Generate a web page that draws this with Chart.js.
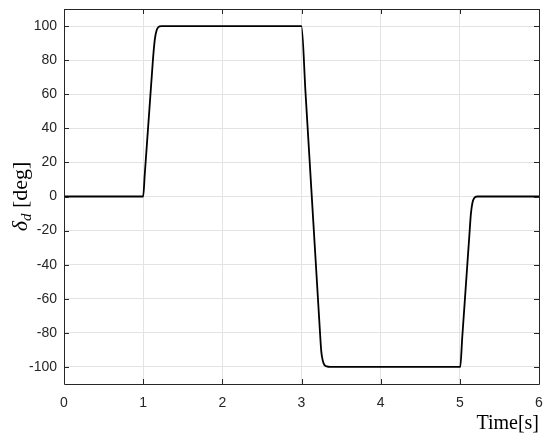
<!DOCTYPE html>
<html>
<head>
<meta charset="utf-8">
<script src="https://cdn.jsdelivr.net/npm/chart.js@4/dist/chart.umd.min.js"></script>
<style>
html,body{margin:0;padding:0;background:#fff;}
#wrap{width:550px;height:441px;position:relative;}
</style>
</head>
<body>
<div id="wrap"><canvas id="c" width="550" height="441"></canvas></div>
<script>
// ---- data ----
const timeSec = [0, 1.0, 1.02, 1.05, 1.08, 1.11, 1.13, 1.15, 1.17, 1.19, 1.23,
  3.0, 3.05, 3.1, 3.15, 3.2, 3.23, 3.25, 3.27, 3.29, 3.32, 3.36,
  5.005, 5.03, 5.06, 5.09, 5.12, 5.14, 5.16, 5.18, 5.22, 6.0];
const deltaDeg = [0, 0, 13, 32.5, 52, 71.5, 84, 93, 97.5, 99.3, 100,
  100, 61.5, 23, -15.5, -54, -77, -91, -96.5, -98.8, -99.7, -100,
  -100, -83, -63, -43, -23, -10, -3.5, -1, 0, 0];
const xTicks = [0, 1, 2, 3, 4, 5, 6];
const yTicks = [-100, -80, -60, -40, -20, 0, 20, 40, 60, 80, 100];
const xTitle = 'Time[s]';
const yTitleSym = 'δ', yTitleSub = 'd', yTitleRest = ' [deg]';

const axisColor = '#262626';
const gridColor = '#e3e3e3';

const points = timeSec.map((t, i) => ({x: t, y: deltaDeg[i]}));

const boxPlugin = {
  id: 'boxTicks',
  afterDraw(chart) {
    const {ctx, chartArea: a, scales} = chart;
    ctx.save();
    ctx.strokeStyle = axisColor;
    ctx.lineWidth = 1;
    ctx.beginPath();
    ctx.rect(Math.round(a.left) + 0.5, Math.round(a.top) + 0.5,
             Math.round(a.right - a.left), Math.round(a.bottom - a.top));
    ctx.stroke();
    const L = 5;
    ctx.beginPath();
    xTicks.forEach(v => {
      const px = Math.round(scales.x.getPixelForValue(v)) + 0.5;
      ctx.moveTo(px, a.bottom); ctx.lineTo(px, a.bottom - L);
      ctx.moveTo(px, a.top); ctx.lineTo(px, a.top + L);
    });
    yTicks.forEach(v => {
      const py = Math.round(scales.y.getPixelForValue(v)) + 0.5;
      ctx.moveTo(a.left, py); ctx.lineTo(a.left + L, py);
      ctx.moveTo(a.right, py); ctx.lineTo(a.right - L, py);
    });
    ctx.stroke();
    // y axis title with subscript
    const big = 'italic 22px "Liberation Serif", "DejaVu Serif", serif';
    const sub = 'italic 15px "Liberation Serif", "DejaVu Serif", serif';
    const reg = '22px "Liberation Serif", "DejaVu Serif", serif';
    ctx.fillStyle = '#000';
    ctx.font = big; const w1 = ctx.measureText(yTitleSym).width;
    ctx.font = sub; const w2 = ctx.measureText(yTitleSub).width;
    ctx.font = reg; const w3 = ctx.measureText(yTitleRest).width;
    const total = w1 + w2 + w3;
    const cy = (a.top + a.bottom) / 2;
    ctx.translate(27, cy);
    ctx.rotate(-Math.PI / 2);
    ctx.textBaseline = 'alphabetic';
    ctx.textAlign = 'left';
    let x0 = -total / 2;
    ctx.font = big; ctx.fillText(yTitleSym, x0, 0); x0 += w1;
    ctx.font = sub; ctx.fillText(yTitleSub, x0, 4); x0 += w2;
    ctx.font = reg; ctx.fillText(yTitleRest, x0, 0);
    ctx.restore();
  }
};

new Chart(document.getElementById('c'), {
  type: 'line',
  data: {
    datasets: [{
      data: points,
      borderColor: '#000',
      borderWidth: 1.8,
      pointRadius: 0,
      fill: false,
      cubicInterpolationMode: 'monotone'
    }]
  },
  options: {
    responsive: false,
    animation: false,
    events: [],
    layout: {padding: {top: 9, right: 11, left: 0, bottom: 0}},
    plugins: {legend: {display: false}, tooltip: {enabled: false}},
    scales: {
      x: {
        type: 'linear', min: 0, max: 6,
        afterBuildTicks(s) { s.ticks = xTicks.map(v => ({value: v})); },
        afterFit(s) { s.height = 57; s.paddingLeft = 0; s.paddingRight = 0; },
        grid: {color: gridColor, drawTicks: false, lineWidth: 1},
        border: {display: false},
        ticks: {color: axisColor, padding: 11, maxRotation: 0,
                font: {family: '"Liberation Sans", Arial, sans-serif', size: 14}},
        title: {display: true, text: xTitle, align: 'end', color: '#000',
                padding: {top: 0, bottom: 5},
                font: {family: '"Liberation Serif", "DejaVu Serif", serif', size: 20}}
      },
      y: {
        type: 'linear', min: -110, max: 110,
        afterBuildTicks(s) { s.ticks = yTicks.map(v => ({value: v})); },
        afterFit(s) { s.width = 64; s.paddingTop = 0; s.paddingBottom = 0; },
        grid: {color: gridColor, drawTicks: false, lineWidth: 1},
        border: {display: false},
        ticks: {color: axisColor, padding: 7,
                font: {family: '"Liberation Sans", Arial, sans-serif', size: 14}}
      }
    }
  },
  plugins: [boxPlugin]
});
</script>
</body>
</html>
